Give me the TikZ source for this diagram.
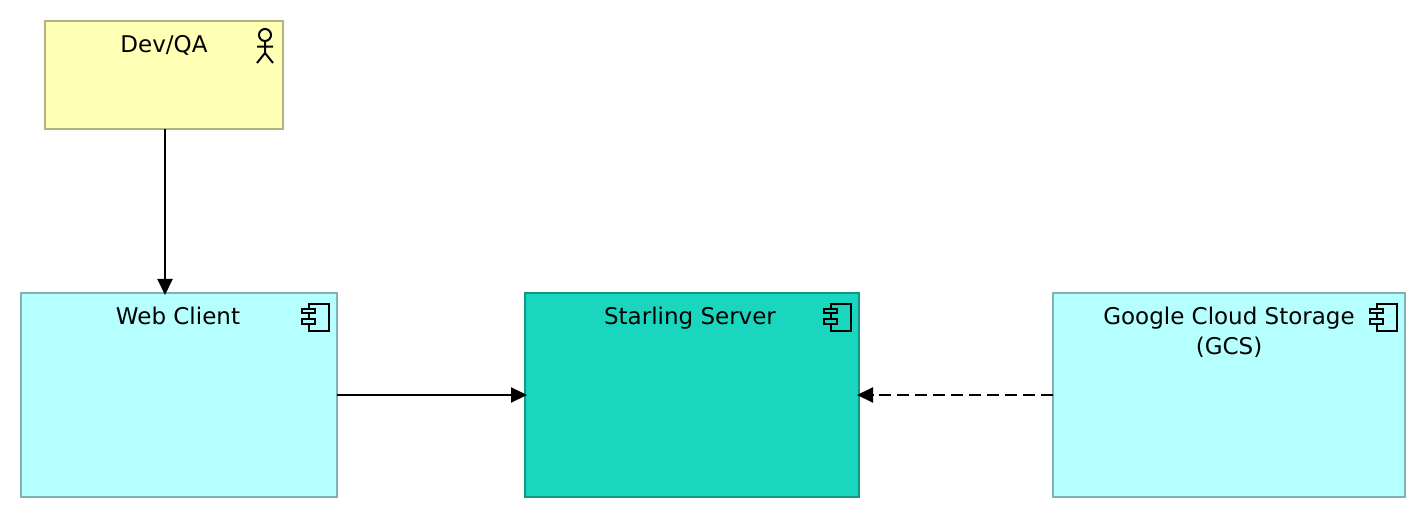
\documentclass[tikz,border=0pt]{standalone}
\usepackage{fontspec}
\setmainfont{DejaVu Sans}
\usetikzlibrary{arrows.meta}
\definecolor{actorfill}{HTML}{FFFFB5}
\definecolor{actorline}{HTML}{B2B27F}
\definecolor{compfill}{HTML}{B5FFFF}
\definecolor{compline}{HTML}{7FB2B2}
\definecolor{mainfill}{HTML}{1BD6BE}
\definecolor{mainline}{HTML}{129685}
\tikzset{
  elembox/.style={draw, line width=2pt, inner sep=0pt, outer sep=0pt, rectangle},
  actorbox/.style={elembox, fill=actorfill, draw=actorline},
  compbox/.style={elembox, fill=compfill, draw=compline},
  mainbox/.style={elembox, fill=mainfill, draw=mainline},
  elemtext/.style={anchor=north, align=center, inner sep=0pt, font=\fontsize{23}{30}\selectfont},
  conn/.style={line width=2pt, -{Triangle[length=16pt,width=15pt]}, shorten >=-2pt},
  iconline/.style={line width=2pt, black},
  pics/compicon/.style={code={
    \draw[iconline] (-28,11.5) rectangle (-8,38);
    \draw[iconline, fill=#1] (-35,15.7) rectangle (-22.5,20);
    \draw[iconline, fill=#1] (-35,26) rectangle (-22.5,31.3);
  }}
}
\begin{document}
\begin{tikzpicture}[x=1pt,y=-1pt]
\useasboundingbox (0,0) rectangle (1426,518);
\node[actorbox, minimum width=238pt, minimum height=108pt] (dev) at (164,75) {};
\node[compbox, minimum width=316pt, minimum height=204pt] (web) at (179,395) {};
\node[mainbox, minimum width=334pt, minimum height=204pt] (star) at (692,395) {};
\node[compbox, minimum width=352pt, minimum height=204pt] (gcs) at (1229,395) {};
\node[elemtext] (devt) at (164,35) {Dev/QA};
\node[elemtext] (webt) at (178,307) {Web Client};
\node[elemtext] (start) at (690,307) {Starling Server};
\node[elemtext] (gcst) at (1229,307) {Google Cloud Storage\\(GCS)};
\draw[iconline] (265,35) circle (6);
\draw[iconline] (265,41) -- (265,53) (257,46.7) -- (273,46.7) (257,63) -- (265,53) -- (273,63);
\pic at (337,293) {compicon=compfill};
\pic at (859,293) {compicon=mainfill};
\pic at (1405,293) {compicon=compfill};
\draw[conn] (dev.south -| 165,0) -- (web.north -| 165,0);
\draw[conn] (web.east) -- (star.west);
\draw[conn, dash pattern=on 12pt off 6pt] (gcs.west) -- (star.east);
\end{tikzpicture}
\end{document}
